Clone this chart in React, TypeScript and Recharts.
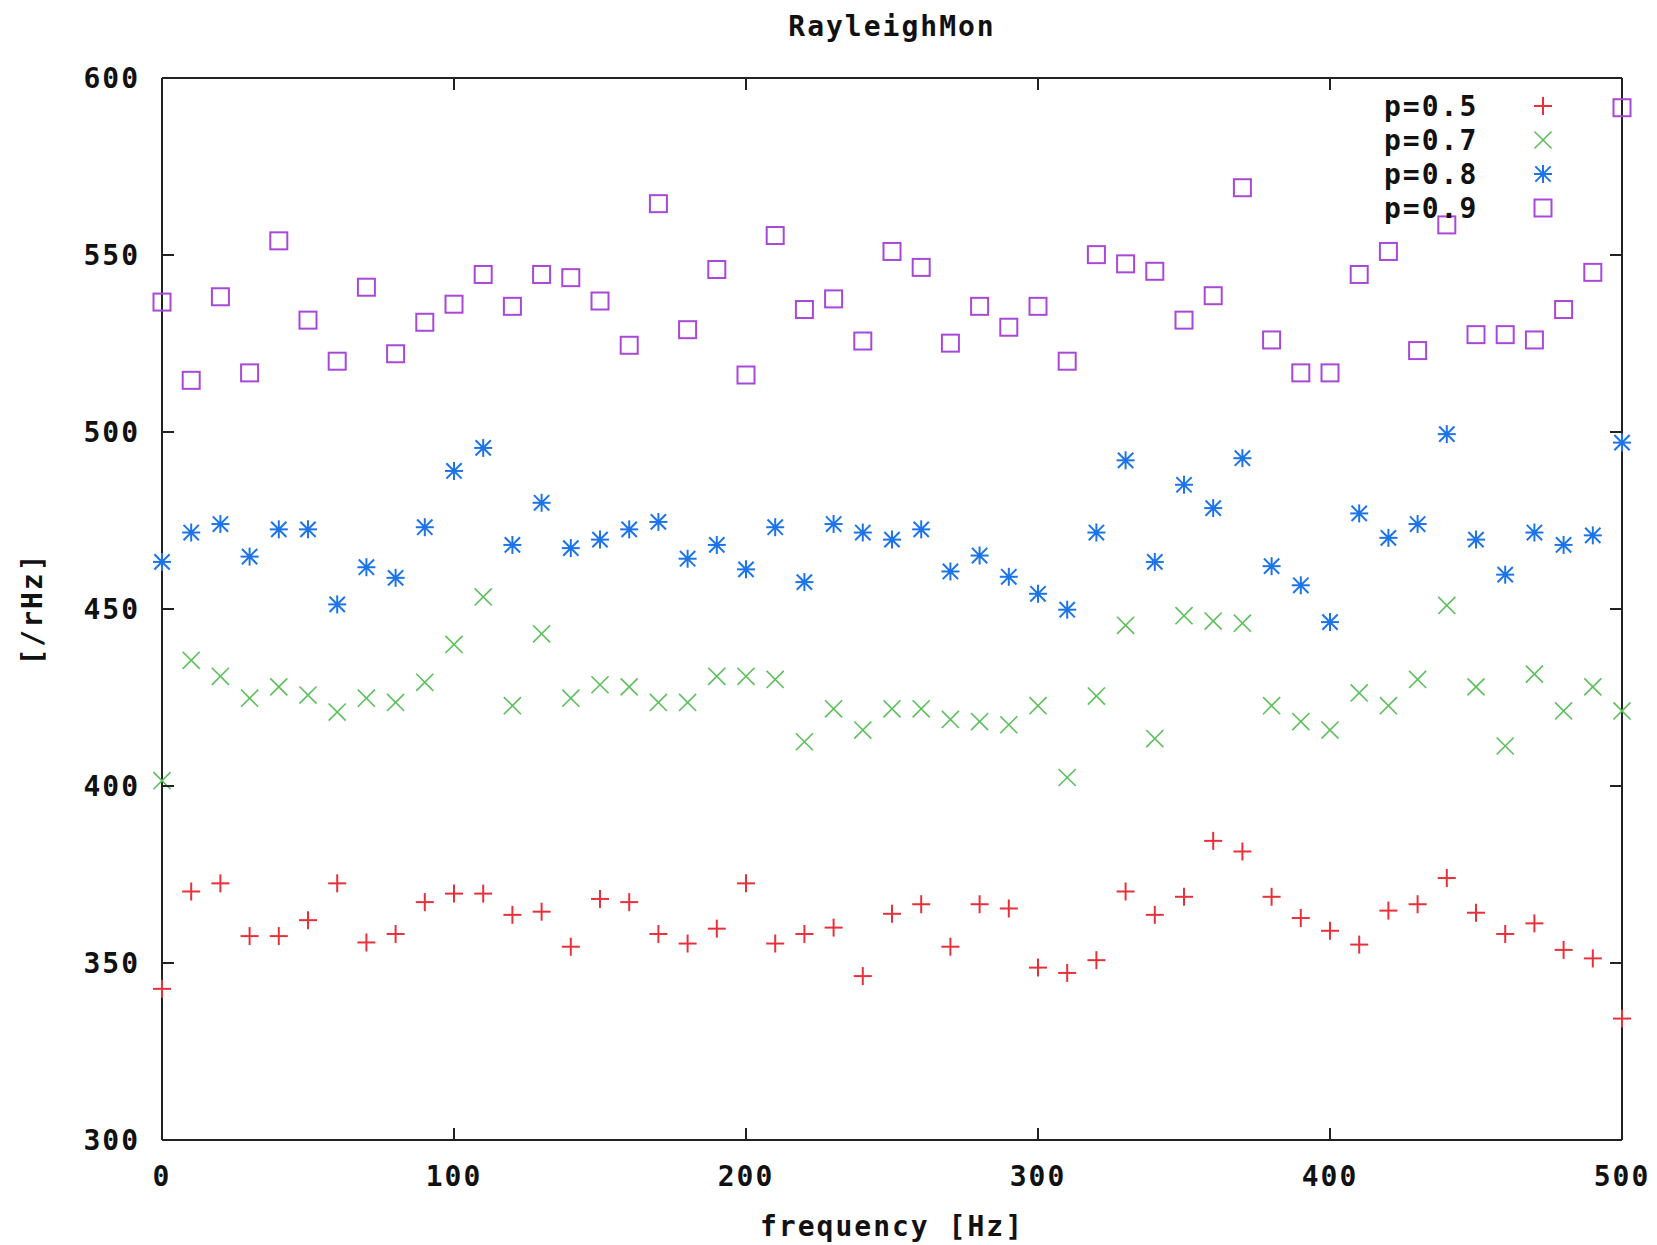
import React from "react";
import {
  ScatterChart,
  Scatter,
  XAxis,
  YAxis,
  Legend,
} from "recharts";

// frequency [Hz] of every sample
const frequencies = [
  0, 10, 20, 30, 40, 50, 60, 70, 80, 90, 100, 110, 120, 130, 140, 150, 160,
  170, 180, 190, 200, 210, 220, 230, 240, 250, 260, 270, 280, 290, 300, 310,
  320, 330, 340, 350, 360, 370, 380, 390, 400, 410, 420, 430, 440, 450, 460,
  470, 480, 490, 500,
];

const p05 = [
  342.7, 370.2, 372.5, 357.6, 357.6, 362.1, 372.5, 355.8, 358.2, 367.2, 369.6,
  369.6, 363.6, 364.5, 354.6, 368.1, 367.2, 358.2, 355.5, 359.7, 372.5, 355.5,
  358.2, 360.0, 346.3, 363.9, 366.6, 354.6, 366.6, 365.4, 348.7, 347.2, 350.8,
  370.2, 363.6, 368.7, 384.5, 381.5, 368.7, 362.7, 359.1, 355.2, 364.8, 366.6,
  374.0, 364.2, 358.2, 361.2, 353.7, 351.3, 334.3,
];

const p07 = [
  401.5, 435.5, 431.0, 424.8, 428.0, 425.7, 420.9, 424.8, 423.6, 429.3, 440.0,
  453.4, 422.7, 443.0, 424.8, 428.6, 428.0, 423.6, 423.6, 431.0, 431.0, 430.1,
  412.5, 421.8, 415.8, 421.8, 421.8, 418.8, 418.2, 417.3, 422.7, 402.4, 425.4,
  445.4, 413.4, 448.1, 446.6, 446.0, 422.7, 418.2, 415.8, 426.3, 422.7, 430.1,
  451.0, 428.0, 411.3, 431.6, 421.2, 428.0, 421.2,
];

const p08 = [
  463.3, 471.6, 474.0, 464.8, 472.5, 472.5, 451.3, 461.8, 458.8, 473.1, 489.0,
  495.5, 468.1, 480.0, 467.2, 469.6, 472.5, 474.6, 464.2, 468.1, 461.2, 473.1,
  457.6, 474.0, 471.6, 469.6, 472.5, 460.6, 465.1, 459.1, 454.3, 449.8, 471.6,
  492.0, 463.3, 485.1, 478.5, 492.6, 462.1, 456.7, 446.3, 477.0, 470.1, 474.0,
  499.4, 469.6, 459.7, 471.6, 468.1, 470.8, 497.0,
];

const p09 = [
  536.7, 514.6, 538.2, 516.7, 554.0, 531.6, 520.0, 540.9, 522.1, 531.0, 536.1,
  544.5, 535.5, 544.5, 543.6, 537.0, 524.5, 564.5, 528.9, 545.9, 516.1, 555.5,
  534.6, 537.6, 525.7, 551.0, 546.5, 525.1, 535.5, 529.6, 535.5, 520.0, 550.1,
  547.5, 545.4, 531.6, 538.5, 569.0, 526.0, 516.7, 516.7, 544.5, 551.0, 523.0,
  558.5, 527.5, 527.5, 526.0, 534.6, 545.1, 591.6,
];

const xTicks = [0, 100, 200, 300, 400, 500];
const yTicks = [300, 350, 400, 450, 500, 550, 600];

const FONT = "'DejaVu Sans Mono', monospace";
const TICK_LEN = 12;
const AXIS_COLOR = "#222";

type MarkerKind = "plus" | "cross" | "star" | "square";

// the mirrored top/right axes only draw ticks when a series uses them,
// so the last series is bound to them (same domains, same positions)
const series: {
  name: string;
  values: number[];
  color: string;
  marker: MarkerKind;
  xAxisId: string;
  yAxisId: string;
}[] = [
  { name: "p=0.5", values: p05, color: "#e8303a", marker: "plus", xAxisId: "bottom", yAxisId: "left" },
  { name: "p=0.7", values: p07, color: "#5cbf5c", marker: "cross", xAxisId: "bottom", yAxisId: "left" },
  { name: "p=0.8", values: p08, color: "#1c74e8", marker: "star", xAxisId: "bottom", yAxisId: "left" },
  { name: "p=0.9", values: p09, color: "#a848d8", marker: "square", xAxisId: "top", yAxisId: "right" },
];

function Marker({ kind, cx, cy, color }: { kind: MarkerKind; cx: number; cy: number; color: string }) {
  const r = 9;
  const sw = 2;
  if (kind === "plus") {
    return (
      <g stroke={color} strokeWidth={sw}>
        <line x1={cx - r} y1={cy} x2={cx + r} y2={cy} />
        <line x1={cx} y1={cy - r} x2={cx} y2={cy + r} />
      </g>
    );
  }
  if (kind === "cross") {
    const d = r * 0.95;
    return (
      <g stroke={color} strokeWidth={sw * 0.8}>
        <line x1={cx - d} y1={cy - d} x2={cx + d} y2={cy + d} />
        <line x1={cx - d} y1={cy + d} x2={cx + d} y2={cy - d} />
      </g>
    );
  }
  if (kind === "star") {
    const d = r * 0.85;
    return (
      <g stroke={color} strokeWidth={sw}>
        <line x1={cx - r} y1={cy} x2={cx + r} y2={cy} />
        <line x1={cx} y1={cy - r} x2={cx} y2={cy + r} />
        <line x1={cx - d} y1={cy - d} x2={cx + d} y2={cy + d} />
        <line x1={cx - d} y1={cy + d} x2={cx + d} y2={cy - d} />
        <circle cx={cx} cy={cy} r={2.5} fill={color} stroke="none" />
      </g>
    );
  }
  return (
    <rect
      x={cx - 8.5}
      y={cy - 8.5}
      width={17}
      height={17}
      fill="none"
      stroke={color}
      strokeWidth={sw}
    />
  );
}

function makeShape(kind: MarkerKind, color: string) {
  return (props: any) => {
    if (props.cx == null || props.cy == null) return <g />;
    return <Marker kind={kind} cx={props.cx} cy={props.cy} color={color} />;
  };
}

// gnuplot style: ticks point into the plot, labels outside
function BottomTick({ x, y, payload }: any) {
  return (
    <g>
      <path d={`M${x},${y}V${y - TICK_LEN}`} stroke={AXIS_COLOR} strokeWidth={2} />
      <text
        x={x}
        y={y + 36}
        textAnchor="middle"
        dominantBaseline="central"
        fontFamily={FONT}
        fontWeight="bold"
        fontSize={28}
        letterSpacing={2}
        fill="#111"
      >
        {payload.value}
      </text>
    </g>
  );
}

function TopTick({ x, y }: any) {
  return <path d={`M${x},${y}V${y + TICK_LEN}`} stroke={AXIS_COLOR} strokeWidth={2} />;
}

function LeftTick({ x, y, payload }: any) {
  return (
    <g>
      <path d={`M${x},${y}H${x + TICK_LEN}`} stroke={AXIS_COLOR} strokeWidth={2} />
      <text
        x={x - 22}
        y={y}
        textAnchor="end"
        dominantBaseline="central"
        fontFamily={FONT}
        fontWeight="bold"
        fontSize={28}
        letterSpacing={2}
        fill="#111"
      >
        {payload.value}
      </text>
    </g>
  );
}

function RightTick({ x, y }: any) {
  return <path d={`M${x},${y}H${x - TICK_LEN}`} stroke={AXIS_COLOR} strokeWidth={2} />;
}

function LegendBox() {
  return (
    <svg width={200} height={140}>
      {series.map((s, i) => (
        <g key={s.name}>
          <text
            x={14}
            y={18 + i * 34}
            dominantBaseline="central"
            fontFamily={FONT}
            fontWeight="bold"
            fontSize={28}
            letterSpacing={2}
            fill="#111"
          >
            {s.name}
          </text>
          <Marker kind={s.marker} cx={173} cy={18 + i * 34} color={s.color} />
        </g>
      ))}
    </svg>
  );
}

const labelStyle = {
  fontFamily: FONT,
  fontWeight: "bold" as const,
  fontSize: 28,
  letterSpacing: 2,
  fill: "#111",
};

export default function App() {
  const tables = series.map((s) =>
    frequencies.map((f, i) => ({ freq: f, value: s.values[i] }))
  );

  return (
    <div style={{ background: "#fff", width: 1657, height: 1245 }}>
      <style>{"body{margin:0;background:#fff}"}</style>
      <ScatterChart
        width={1657}
        height={1245}
        margin={{ top: 0, right: 0, bottom: 0, left: 0 }}
      >
        <XAxis
          xAxisId="bottom"
          orientation="bottom"
          type="number"
          dataKey="freq"
          domain={[0, 500]}
          ticks={xTicks}
          interval={0}
          height={105}
          tickSize={0}
          tickMargin={0}
          tickLine={false}
          axisLine={{ stroke: AXIS_COLOR, strokeWidth: 2 }}
          tick={<BottomTick />}
          label={{
            content: ({ viewBox }: any) => (
              <text
                x={viewBox.x + viewBox.width / 2}
                y={viewBox.y + 86}
                textAnchor="middle"
                dominantBaseline="central"
                {...labelStyle}
              >
                frequency [Hz]
              </text>
            ),
          }}
        />
        <XAxis
          xAxisId="top"
          orientation="top"
          type="number"
          dataKey="freq"
          domain={[0, 500]}
          ticks={xTicks}
          interval={0}
          height={78}
          tickSize={0}
          tickMargin={0}
          tickLine={false}
          axisLine={{ stroke: AXIS_COLOR, strokeWidth: 2 }}
          tick={<TopTick />}
          label={{
            content: ({ viewBox }: any) => (
              <text
                x={viewBox.x + viewBox.width / 2}
                y={viewBox.y + 26}
                textAnchor="middle"
                dominantBaseline="central"
                {...labelStyle}
              >
                RayleighMon
              </text>
            ),
          }}
        />
        <YAxis
          yAxisId="left"
          orientation="left"
          type="number"
          dataKey="value"
          domain={[300, 600]}
          ticks={yTicks}
          interval={0}
          width={162}
          tickSize={0}
          tickMargin={0}
          tickLine={false}
          axisLine={{ stroke: AXIS_COLOR, strokeWidth: 2 }}
          tick={<LeftTick />}
          label={{
            content: ({ viewBox }: any) => {
              const cx = viewBox.x + 32;
              const cy = viewBox.y + viewBox.height / 2;
              return (
                <text
                  x={cx}
                  y={cy}
                  textAnchor="middle"
                  dominantBaseline="central"
                  transform={`rotate(-90 ${cx} ${cy})`}
                  {...labelStyle}
                >
                  [/rHz]
                </text>
              );
            },
          }}
        />
        <YAxis
          yAxisId="right"
          orientation="right"
          type="number"
          dataKey="value"
          domain={[300, 600]}
          ticks={yTicks}
          interval={0}
          width={35}
          tickSize={0}
          tickMargin={0}
          tickLine={false}
          axisLine={{ stroke: AXIS_COLOR, strokeWidth: 2 }}
          tick={<RightTick />}
        />
        <Legend
          layout="vertical"
          align="center"
          verticalAlign="middle"
          wrapperStyle={{ left: 1370, top: 88, width: 200, height: 140 }}
          content={() => <LegendBox />}
        />
        {series.map((s, i) => (
          <Scatter
            key={s.name}
            name={s.name}
            xAxisId={s.xAxisId}
            yAxisId={s.yAxisId}
            data={tables[i]}
            shape={makeShape(s.marker, s.color)}
            isAnimationActive={false}
          />
        ))}
      </ScatterChart>
    </div>
  );
}
